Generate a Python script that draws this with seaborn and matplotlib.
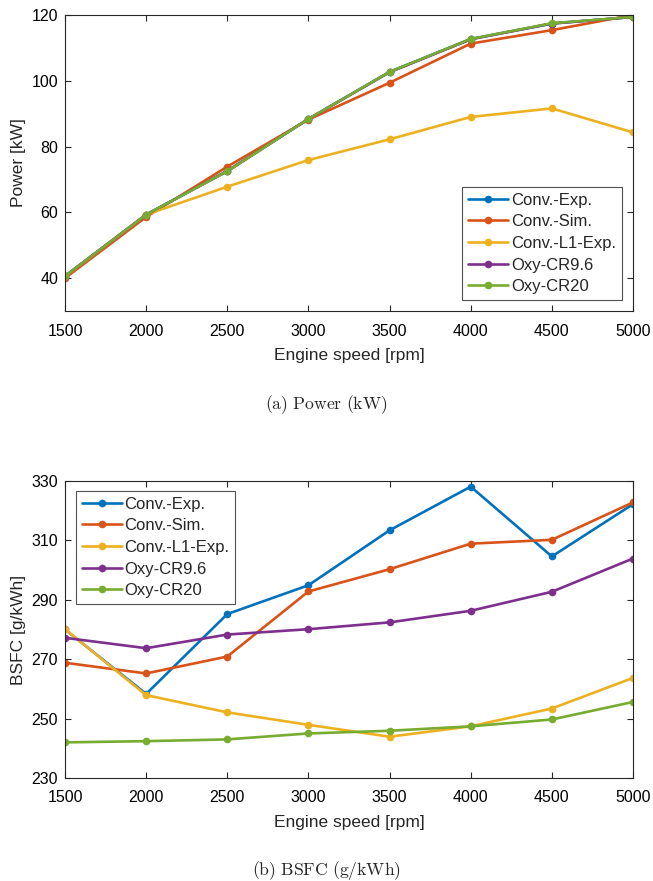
import matplotlib
matplotlib.use("Agg")
import matplotlib.pyplot as plt
import seaborn as sns
import pandas as pd

# Engine speed sweep
speed = [1500, 2000, 2500, 3000, 3500, 4000, 4500, 5000]
series = ["Conv.-Exp.", "Conv.-Sim.", "Conv.-L1-Exp.", "Oxy-CR9.6", "Oxy-CR20"]
colors = ["#0072BD", "#D95319", "#EDB120", "#7E2F8E", "#77AC30"]

# Brake power [kW]
power_conv_exp = [40.6, 59.3, 72.6, 88.4, 102.7, 112.7, 117.4, 119.4]
power_conv_sim = [40.0, 58.6, 73.9, 88.2, 99.4, 111.3, 115.4, 120.0]
power_conv_l1 = [40.5, 59.3, 67.8, 75.9, 82.2, 89.0, 91.6, 84.3]
power_oxy_cr96 = [40.6, 59.3, 72.5, 88.4, 102.6, 112.6, 117.4, 119.4]
power_oxy_cr20 = [40.6, 59.3, 72.5, 88.4, 102.7, 112.7, 117.5, 119.4]

# Brake specific fuel consumption [g/kWh]
bsfc_conv_exp = [280.0, 258.3, 285.2, 294.9, 313.4, 328.1, 304.6, 322.2]
bsfc_conv_sim = [268.8, 265.2, 270.9, 292.8, 300.3, 308.9, 310.2, 322.8]
bsfc_conv_l1 = [280.1, 257.9, 252.1, 247.9, 243.9, 247.4, 253.4, 263.7]
bsfc_oxy_cr96 = [277.2, 273.7, 278.3, 280.1, 282.4, 286.3, 292.7, 303.9]
bsfc_oxy_cr20 = [242.0, 242.4, 243.0, 245.0, 245.9, 247.4, 249.7, 255.6]

power_sets = [power_conv_exp, power_conv_sim, power_conv_l1, power_oxy_cr96, power_oxy_cr20]
bsfc_sets = [bsfc_conv_exp, bsfc_conv_sim, bsfc_conv_l1, bsfc_oxy_cr96, bsfc_oxy_cr20]


def long_frame(sets, name):
    rows = []
    for label, vals in zip(series, sets):
        for s, v in zip(speed, vals):
            rows.append({"speed": s, name: v, "case": label})
    return pd.DataFrame(rows)


df_power = long_frame(power_sets, "power")
df_bsfc = long_frame(bsfc_sets, "bsfc")

sns.set_theme(style="ticks")
plt.rcParams["font.family"] = ["Liberation Sans", "DejaVu Sans"]
plt.rcParams["mathtext.fontset"] = "cm"
edge = "#262626"
plt.rcParams.update({
    "axes.edgecolor": edge,
    "axes.linewidth": 0.8,
    "xtick.color": edge,
    "ytick.color": edge,
    "xtick.labelcolor": "black",
    "ytick.labelcolor": "black",
    "xtick.direction": "in",
    "ytick.direction": "in",
    "xtick.major.size": 4.5,
    "ytick.major.size": 4.5,
    "xtick.major.width": 0.8,
    "ytick.major.width": 0.8,
})

fig = plt.figure(figsize=(6.53, 8.81), dpi=100)
ax1 = fig.add_axes([65 / 653, 1 - 311 / 881, 568 / 653, 296 / 881])
ax2 = fig.add_axes([65 / 653, 1 - 778 / 881, 568 / 653, 297 / 881])


def draw(ax, df, ycol, ylim, yticks, ylabel, loc, anchor):
    sns.lineplot(data=df, x="speed", y=ycol, hue="case", hue_order=series,
                 palette=colors, marker="o", markersize=5.5,
                 markeredgewidth=0, linewidth=1.9, legend=False, ax=ax)
    ax.set_xlim(1500, 5000)
    ax.set_ylim(*ylim)
    ax.set_xticks(speed)
    ax.set_yticks(yticks)
    ax.tick_params(labelsize=11.5, top=True, right=True)
    ax.tick_params(axis="x", pad=9)
    ax.tick_params(axis="y", pad=5)
    ax.set_xlabel("Engine speed [rpm]", fontsize=12.5, labelpad=6.5)
    ax.set_ylabel(ylabel, fontsize=12.5, labelpad=4)
    handles = ax.get_lines()[:len(series)]
    leg = ax.legend(handles, series, loc=loc, bbox_to_anchor=anchor,
                    fontsize=12, frameon=True, fancybox=False,
                    handlelength=2.4, handletextpad=0.15, labelspacing=0.4,
                    borderpad=0.35, borderaxespad=0)
    leg.get_frame().set_edgecolor(edge)
    leg.get_frame().set_linewidth(0.8)
    for sp in ax.spines.values():
        sp.set_visible(True)


draw(ax1, df_power, "power", (30, 120), [40, 60, 80, 100, 120], "Power [kW]",
     "lower right", (0.98, 0.037))
draw(ax2, df_bsfc, "bsfc", (230, 330), [230, 250, 270, 290, 310, 330], "BSFC [g/kWh]",
     "upper left", (0.019, 0.967))

fig.text(0.5, 1 - 405 / 881, r"$\mathrm{(a)\ Power\ (kW)}$", ha="center", va="center", fontsize=12.7)
fig.text(0.5, 1 - 870 / 881, r"$\mathrm{(b)\ BSFC\ (g/kWh)}$", ha="center", va="center", fontsize=12.7)

fig.savefig("out.png", dpi=100)
